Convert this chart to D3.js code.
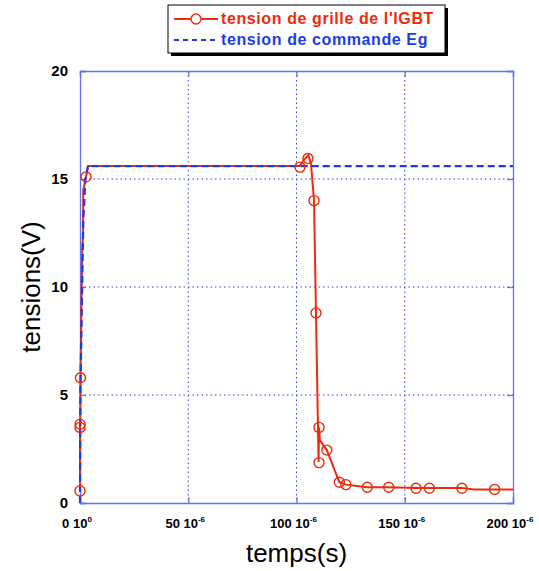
<!DOCTYPE html>
<html><head><meta charset="utf-8">
<script src="https://cdn.jsdelivr.net/npm/d3@7"></script>
<style>body{margin:0;background:#fff}svg{display:block}</style>
</head><body>
<script>
// ---- data (times in 10^-6 s units, voltages in V) ----
const xTicks = [0, 50, 100, 150, 200];
const xTickExp = ["0", "-6", "-6", "-6", "-6"];
const yTicks = [0, 5, 10, 15, 20];
const egT = [0, 0.2, 0.5, 1.5, 2.5, 3.7, 200];
const egV = [0, 5.5, 7, 13, 15, 15.6, 15.6];
const gateT = [0, 0, 0.1, 0.2, 1.0, 1.1, 1.4, 1.5, 2.8, 3.7, 101.5, 103.5, 105.5, 106.7, 108.1, 109.0, 110.2, 110.4, 110.8, 114.0, 119.8, 122.8, 132.7, 142.6, 155.2, 161.4, 176.4, 182, 200];
const gateV = [0.56, 3.5, 3.7, 5.8, 11.5, 12, 12.3, 14.5, 15.1, 15.6, 15.6, 15.9, 16.1, 15.7, 14.0, 8.8, 1.9, 3.5, 2.9, 2.45, 0.96, 0.85, 0.73, 0.73, 0.7, 0.7, 0.7, 0.63, 0.63];
const markT = [0, 0, 0.05, 0.2, 2.8, 101.6, 105.3, 108.1, 109.0, 110.4, 110.4, 114.0, 119.8, 122.8, 132.7, 142.6, 155.2, 161.4, 176.4, 191.5];
const markV = [0.56, 3.5, 3.65, 5.8, 15.1, 15.55, 15.95, 14.0, 8.8, 3.5, 1.87, 2.45, 0.96, 0.85, 0.73, 0.73, 0.68, 0.68, 0.68, 0.63];
const legendLabels = ["tension de grille de l'IGBT", "tension de commande Eg"];

const W = 539, H = 571;
const L = 80, R = 513, T = 71, B = 503;
const red = "#ee2a0c", blue = "#1c3ce6", frame = "#6272f0", grid = "#2a40e0";

const svg = d3.select("body").append("svg").attr("width", W).attr("height", H)
  .style("font-family", "'Liberation Sans', Arial, sans-serif");
const x = d3.scaleLinear().domain([0, 200]).range([L, R]);
const y = d3.scaleLinear().domain([0, 20]).range([B, T]);

// grid
const g = svg.append("g");
g.selectAll(".gx").data(xTicks.slice(1, -1)).join("line")
  .attr("x1", d => x(d)).attr("x2", d => x(d)).attr("y1", T).attr("y2", B)
  .attr("stroke", grid).attr("stroke-width", 1).attr("stroke-dasharray", "1.5,3");
g.selectAll(".gy").data(yTicks.slice(1, -1)).join("line")
  .attr("y1", d => y(d)).attr("y2", d => y(d)).attr("x1", L).attr("x2", R)
  .attr("stroke", grid).attr("stroke-width", 1).attr("stroke-dasharray", "1.5,3");

// axes (ticks inside)
const ax = d3.axisBottom(x).tickValues(xTicks).tickSize(-6).tickFormat("");
const ay = d3.axisLeft(y).tickValues(yTicks).tickSize(-6).tickFormat("");
const ax2 = d3.axisTop(x).tickValues(xTicks).tickSize(-6).tickFormat("");
const ay2 = d3.axisRight(y).tickValues(yTicks).tickSize(-6).tickFormat("");
[[ax, `translate(0,${B})`], [ay, `translate(${L},0)`], [ax2, `translate(0,${T})`], [ay2, `translate(${R},0)`]].forEach(([a, tr]) => {
  const gg = svg.append("g").attr("transform", tr).call(a);
  gg.selectAll("path,line").attr("stroke", frame).attr("stroke-width", 1.3);
});

// tick labels
svg.append("g").selectAll("text").data(yTicks).join("text")
  .attr("x", L - 12).attr("y", d => y(d) + 5).attr("text-anchor", "end")
  .attr("font-size", 15).attr("font-weight", "bold").attr("fill", "#000").text(d => d);
const xl = svg.append("g").selectAll("text").data(xTicks).join("text")
  .attr("x", d => x(d) - 3).attr("y", 528).attr("text-anchor", "middle")
  .attr("font-size", 13).attr("font-weight", "bold").attr("fill", "#000");
xl.append("tspan").text(d => d + " 10");
xl.append("tspan").attr("dy", -6).attr("font-size", 8).text((d, i) => xTickExp[i]);

// axis titles
svg.append("text").attr("x", (L + R) / 2).attr("y", 562).attr("text-anchor", "middle")
  .attr("font-size", 26).attr("fill", "#000").text("temps(s)");
svg.append("text").attr("transform", `translate(40,${(T + B) / 2}) rotate(-90)`)
  .attr("text-anchor", "middle").attr("font-size", 26).attr("fill", "#000").text("tensions(V)");

// lines: red first, blue dashed on top
const line = d3.line().x(d => x(d[0])).y(d => y(d[1]));
svg.append("path").datum(gateT.map((t, i) => [t, gateV[i]])).attr("d", line)
  .attr("fill", "none").attr("stroke", red).attr("stroke-width", 2);
svg.append("path").datum(egT.map((t, i) => [t, egV[i]])).attr("d", line)
  .attr("fill", "none").attr("stroke", blue).attr("stroke-width", 2.2).attr("stroke-dasharray", "7,4");
svg.append("g").selectAll("circle").data(markT.map((t, i) => [t, markV[i]])).join("circle")
  .attr("cx", d => x(d[0])).attr("cy", d => y(d[1])).attr("r", 5)
  .attr("fill", "none").attr("stroke", red).attr("stroke-width", 1.4);

// legend
const lg = svg.append("g");
lg.append("rect").attr("x", 171).attr("y", 8).attr("width", 277).attr("height", 48).attr("fill", "#000");
lg.append("rect").attr("x", 168).attr("y", 5).attr("width", 277).attr("height", 48)
  .attr("fill", "#fff").attr("stroke", "#000").attr("stroke-width", 1);
lg.append("line").attr("x1", 174).attr("x2", 218).attr("y1", 19).attr("y2", 19).attr("stroke", red).attr("stroke-width", 2);
lg.append("circle").attr("cx", 196).attr("cy", 19).attr("r", 5).attr("fill", "#fff").attr("stroke", red).attr("stroke-width", 1.4);
lg.append("line").attr("x1", 174).attr("x2", 218).attr("y1", 40).attr("y2", 40).attr("stroke", blue).attr("stroke-width", 2).attr("stroke-dasharray", "5,4");
lg.selectAll("text").data(legendLabels).join("text")
  .attr("x", 221).attr("y", (d, i) => 24 + i * 21).attr("font-size", 16).attr("letter-spacing", 0.6).attr("font-weight", "bold")
  .attr("fill", (d, i) => i === 0 ? red : blue).text(d => d);
</script>
</body></html>
